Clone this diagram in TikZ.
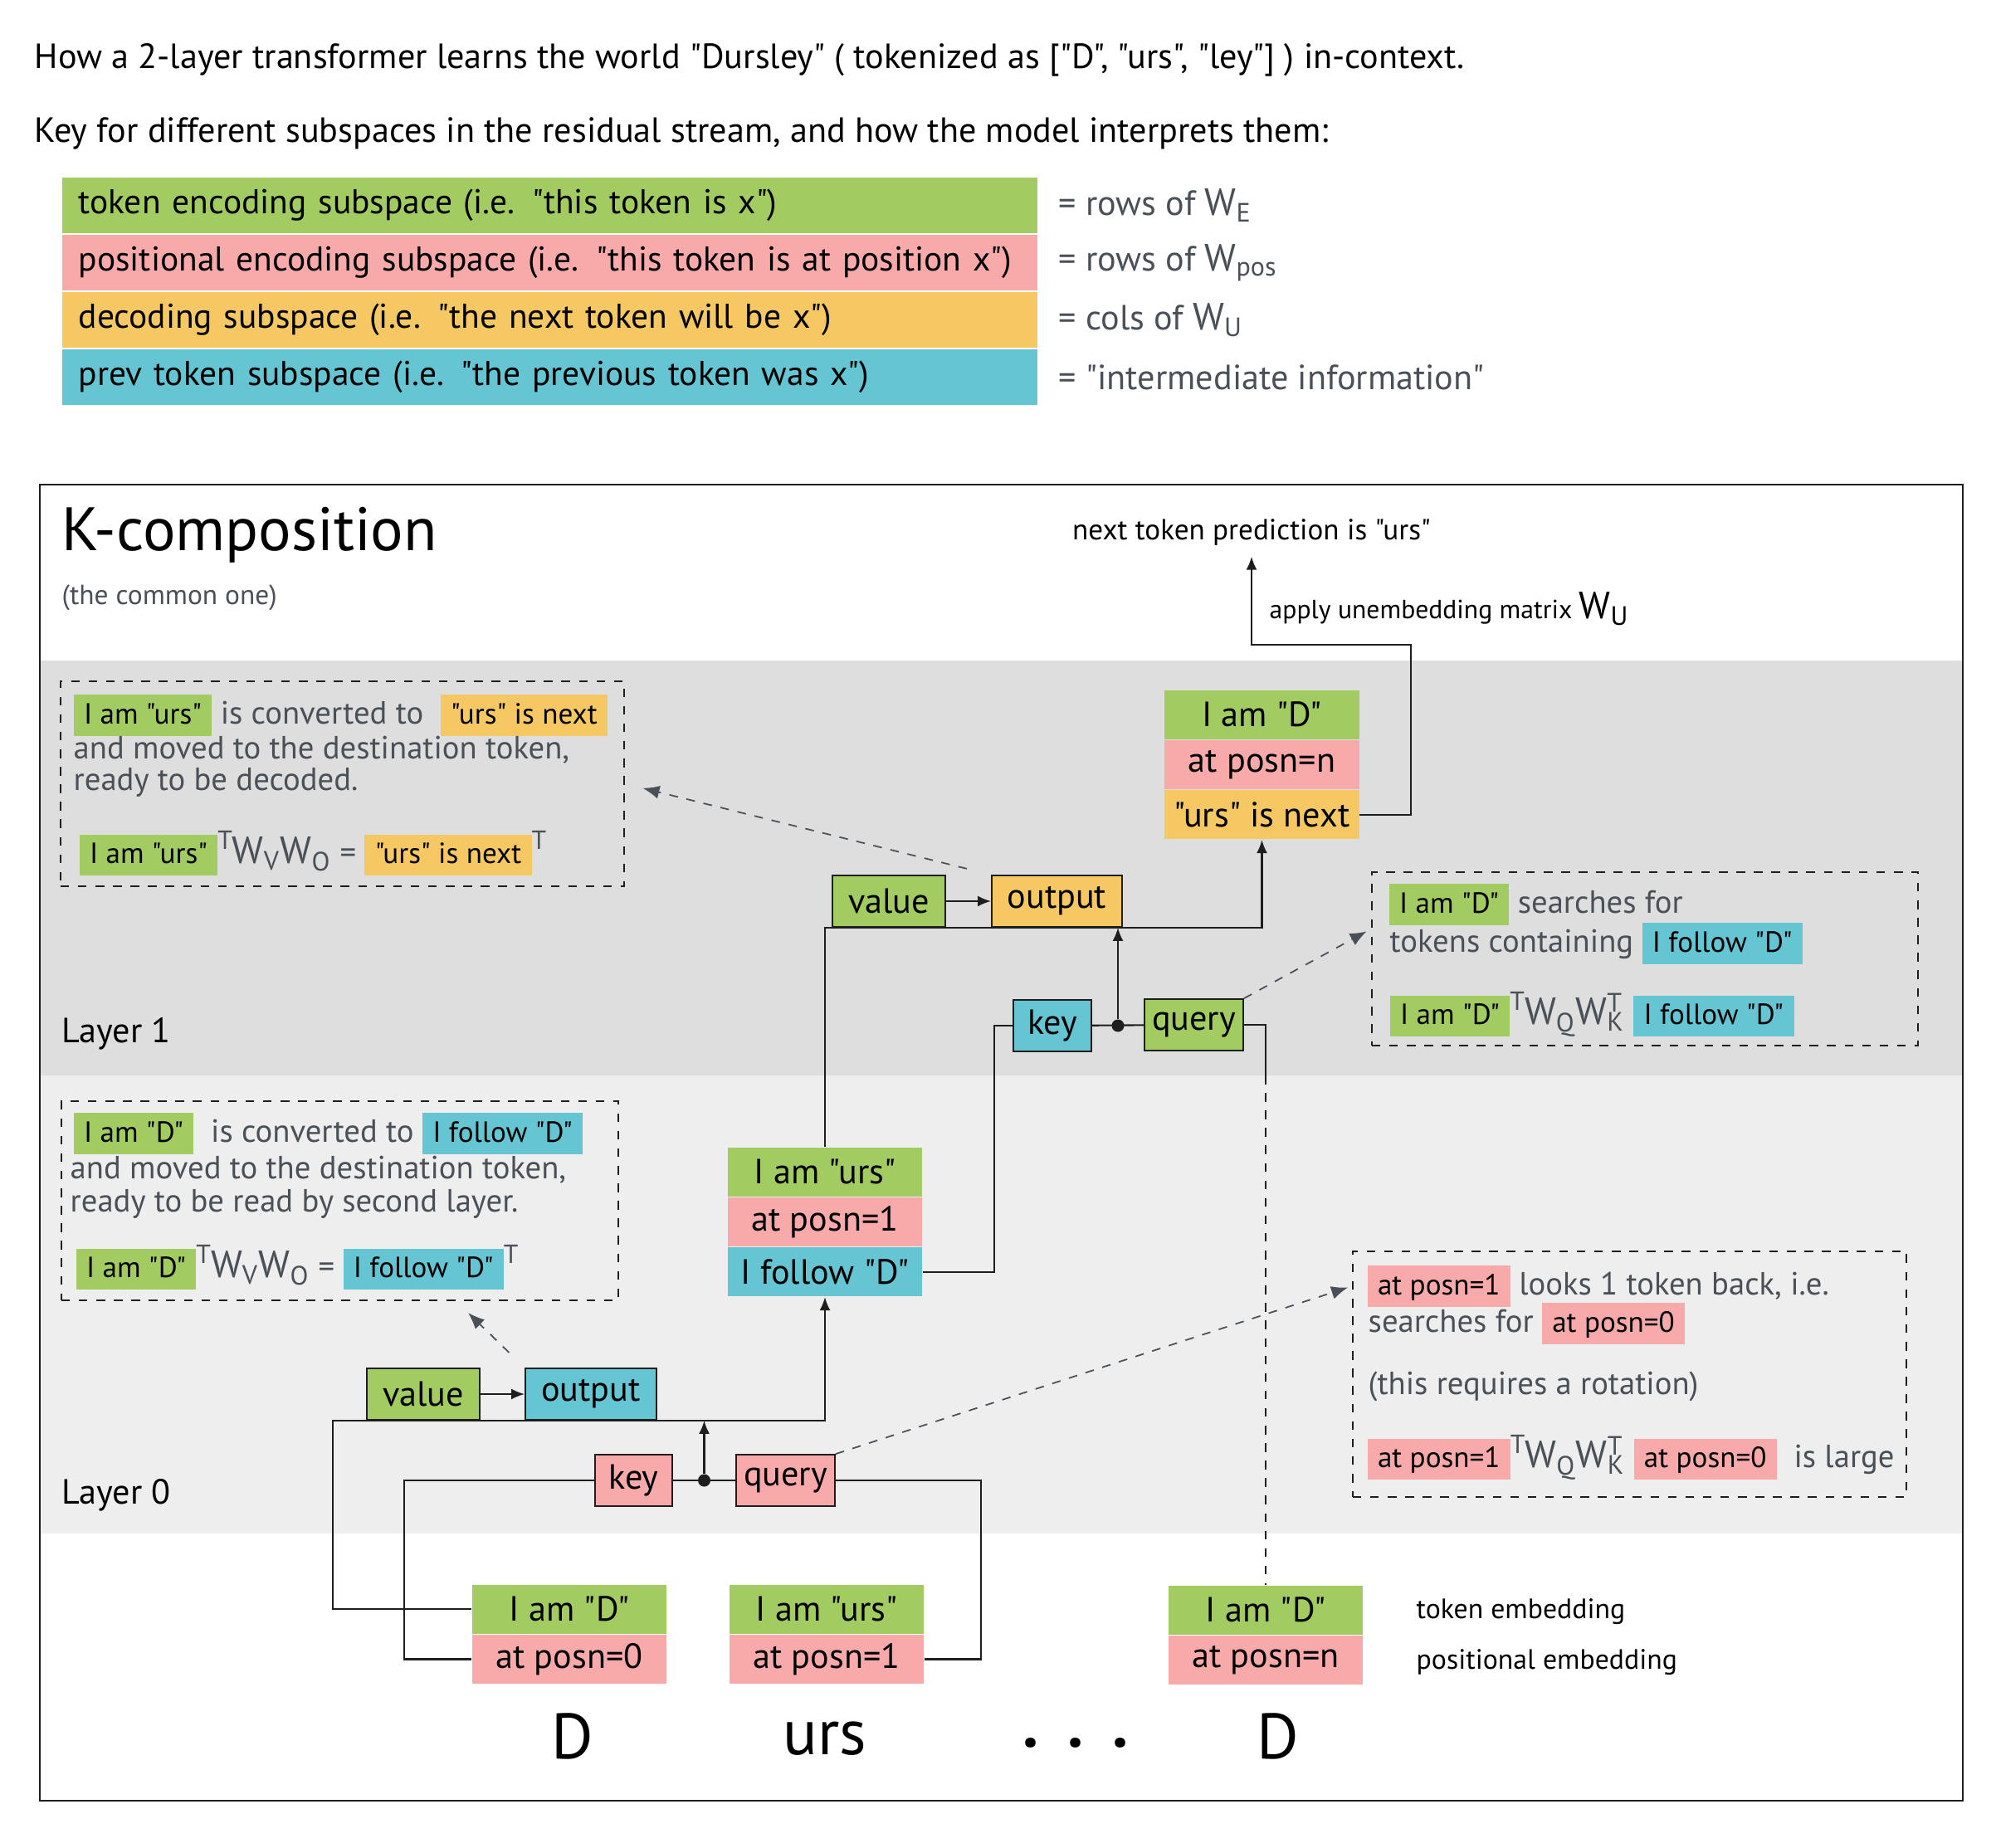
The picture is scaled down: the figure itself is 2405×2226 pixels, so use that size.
\documentclass[tikz,border=0pt]{standalone}
\usepackage{fontspec}
\setmainfont{PT Sans}[Ligatures=TeXOff]
\usetikzlibrary{positioning,arrows.meta}

\definecolor{tokgreen}{HTML}{A2CB61}
\definecolor{pospink}{HTML}{F8AAAA}
\definecolor{decyellow}{HTML}{F5C863}
\definecolor{prevblue}{HTML}{66C5D3}
\definecolor{layerone}{HTML}{DEDEDE}
\definecolor{layerzero}{HTML}{EEEEEE}
\definecolor{notegray}{HTML}{495057}
\definecolor{inkline}{HTML}{1E1E1E}

\newcommand{\chip}[2]{{\setlength{\fboxsep}{1pt}\colorbox{#1}{\fontsize{10}{12}\selectfont\color{black}\rule[-3pt]{0pt}{12pt}\hspace{2.5pt}#2\hspace{2.5pt}}}}
\newcommand{\Wsub}[1]{{\fontsize{13}{15}\selectfont W\textsubscript{#1}}}
\newcommand{\WkT}{{\fontsize{13}{15}\selectfont W\rlap{\textsubscript{K}}\textsuperscript{T}}\hspace{3.5pt}}
\newcommand{\tp}{\raisebox{5pt}{\fontsize{9}{9}\selectfont T}}

\begin{document}
\begin{tikzpicture}[x=0.01cm, y=-0.01cm,
    txt/.style={inner sep=0pt, anchor=west},
    legrow/.style={anchor=north west, minimum width=11.75cm, minimum height=0.675cm, inner xsep=0.2cm, text width=11.35cm, align=left, font=\fontsize{11.8}{14}\selectfont},
    legnote/.style={txt, text=notegray, font=\fontsize{12}{14}\selectfont},
    tokrow/.style={minimum width=2.34cm, minimum height=0.59cm, inner sep=0pt, font=\fontsize{12}{14}\selectfont},
    opbox/.style={draw=inkline, line width=0.5pt, minimum height=0.62cm, inner sep=0pt, font=\fontsize{12}{14}\selectfont},
    bigtok/.style={inner sep=0pt, font=\fontsize{22}{26}\selectfont},
    notebox/.style={draw=inkline, dashed, line width=0.5pt, inner sep=0pt},
    notetxt/.style={txt, text=notegray, font=\fontsize{11}{13}\selectfont},
    dot/.style={circle, fill=inkline, inner sep=0pt, minimum size=0.15cm},
    wire/.style={draw=inkline, line width=0.6pt},
    flow/.style={wire, -{Latex[length=1.6mm, width=1.3mm]}},
    note/.style={draw=notegray, dashed, line width=0.5pt, -{Latex[length=2mm, width=1.6mm]}}
  ]
  \useasboundingbox (0,0) rectangle (2405,2226);

  \node[txt, font=\fontsize{12}{14}\selectfont] (title) at (41,72) {How a 2-layer transformer learns the world "Dursley" ( tokenized as ["D", "urs", "ley"] ) in-context.};
  \node[txt, font=\fontsize{12}{14}\selectfont] (keyline) at (41,161) {Key for different subspaces in the residual stream, and how the model interprets them:};

  \node[legrow, fill=tokgreen] (kTok) at (74,213) {token encoding subspace (i.e. "this token is x")};
  \node[legrow, fill=pospink, below=0pt of kTok] (kPos) {positional encoding subspace (i.e. "this token is at position x")};
  \node[legrow, fill=decyellow, below=0pt of kPos] (kDec) {decoding subspace (i.e. "the next token will be x")};
  \node[legrow, fill=prevblue, below=0pt of kDec] (kPrev) {prev token subspace (i.e. "the previous token was x")};
  \node[legnote, right=0.24cm of kTok] (kTokW) {= rows of \Wsub{E}};
  \node[legnote, right=0.24cm of kPos] (kPosW) {= rows of \Wsub{pos}};
  \node[legnote, right=0.24cm of kDec] (kDecW) {= cols of \Wsub{U}};
  \node[legnote, right=0.24cm of kPrev] (kPrevW) {= "intermediate information"};

  \fill[layerone] (48,796) rectangle (2365,1296);
  \fill[layerzero] (48,1296) rectangle (2365,1848);
  \draw[inkline, line width=0.6pt] (48,584) rectangle (2365,2170);

  \node[txt, font=\fontsize{21}{25}\selectfont] (ktitle) at (74,645) {K-composition};
  \node[txt, text=notegray, font=\fontsize{9.5}{11}\selectfont] (ksub) at (74,720) {(the common one)};
  \node[txt, font=\fontsize{12}{14}\selectfont] (lay1) at (74,1246) {Layer 1};
  \node[txt, font=\fontsize{12}{14}\selectfont] (lay0) at (74,1802) {Layer 0};

  \node[tokrow, fill=tokgreen] (d0tok) at (686,1939) {I am "D"};
  \node[tokrow, fill=pospink, below=0pt of d0tok] (d0pos) {at posn=0};
  \node[tokrow, fill=tokgreen] (u0tok) at (996,1939) {I am "urs"};
  \node[tokrow, fill=pospink, below=0pt of u0tok] (u0pos) {at posn=1};
  \node[tokrow, fill=tokgreen] (n0tok) at (1525,1940) {I am "D"};
  \node[tokrow, fill=pospink, below=0pt of n0tok] (n0pos) {at posn=n};

  \node[bigtok] (wD) at (690,2092) {D};
  \node[bigtok] (wurs) at (994,2095) {urs};
  \node[bigtok] (wdots) at (1296,2100) {\textbf{.\hspace{0.35cm}.\hspace{0.35cm}.}};
  \node[bigtok] (wDn) at (1540,2092) {D};
  \node[txt, font=\fontsize{9.6}{12}\selectfont] (embTok) at (1706,1942) {token embedding};
  \node[txt, font=\fontsize{9.6}{12}\selectfont] (embPos) at (1706,2003) {positional embedding};

  \node[opbox, fill=tokgreen, minimum width=1.36cm] (v0) at (510,1680) {value};
  \node[opbox, fill=prevblue, minimum width=1.58cm] (o0) at (712,1680) {output};
  \node[opbox, fill=pospink, minimum width=0.93cm] (k0) at (763.5,1784) {key};
  \node[opbox, fill=pospink, minimum width=1.19cm] (q0) at (946.5,1784) {query};
  \node[dot] (j0) at (848.5,1784) {};

  \node[tokrow, fill=tokgreen] (u1tok) at (994,1412) {I am "urs"};
  \node[tokrow, fill=pospink, below=0pt of u1tok] (u1pos) {at posn=1};
  \node[tokrow, fill=prevblue, below=0pt of u1pos] (u1prev) {I follow "D"};

  \node[opbox, fill=tokgreen, minimum width=1.36cm] (v1) at (1071,1086) {value};
  \node[opbox, fill=decyellow, minimum width=1.57cm] (o1) at (1273.5,1086) {output};
  \node[opbox, fill=prevblue, minimum width=0.94cm] (k1) at (1268,1236) {key};
  \node[opbox, fill=tokgreen, minimum width=1.19cm] (q1) at (1438.5,1235) {query};
  \node[dot] (j1) at (1347,1236) {};

  \node[tokrow, fill=tokgreen] (n1tok) at (1520.5,861) {I am "D"};
  \node[tokrow, fill=pospink, below=0pt of n1tok] (n1pos) {at posn=n};
  \node[tokrow, fill=decyellow, below=0pt of n1pos] (n1next) {"urs" is next};

  \node[inner sep=0pt, font=\fontsize{10}{12}\selectfont] (pred) at (1508,642) {next token prediction is "urs"};
  \node[txt, font=\fontsize{9}{11}\selectfont] (unemb) at (1529,734) {apply unembedding matrix \Wsub{U}};
  \coordinate (ua) at (1700,777);
  \draw[flow, shorten >=0.12cm] (n1next.east) -| (ua) -| (pred.south);

  \draw[flow] (u1tok.north) |- (n1next |- o1.south) -- (n1next.south);
  \draw[flow] (v1) -- (o1);
  \draw[wire] (k1) -- (q1);
  \draw[flow] (j1) -- (j1 |- o1.south);
  \draw[wire] (u1prev.east) -- ++(86,0) |- (k1.west);
  \coordinate (qc) at (1525,1296);
  \draw[wire] (q1.east) -| (qc);
  \draw[wire, dashed] (qc) -- (n0tok.north);

  \draw[flow] (d0tok.west) -- ++(-167,0) |- (u1prev |- o0.south) -- (u1prev.south);
  \draw[flow] (v0) -- (o0);
  \draw[wire] (k0) -- (q0);
  \draw[flow] (j0) -- (j0 |- o0.south);
  \draw[wire] (d0pos.west) -- ++(-81,0) |- (k0.west);
  \draw[wire] (u0pos.east) -- ++(68,0) |- (q0.east);

  \node[notebox, minimum width=6.79cm, minimum height=2.47cm] (nb1) at (412.5,944.5) {};
  \node[notetxt] (nb1a) at (88,862) {\chip{tokgreen}{I am "urs"} is converted to \ \chip{decyellow}{"urs" is next}};
  \node[notetxt] (nb1b) at (88,904) {and moved to the destination token,};
  \node[notetxt] (nb1c) at (88,943) {ready to be decoded.};
  \node[notetxt] (nb1d) at (95,1028) {\chip{tokgreen}{I am "urs"}\tp\Wsub{V}\Wsub{O} = \chip{decyellow}{"urs" is next}\tp};

  \node[notebox, minimum width=6.58cm, minimum height=2.09cm] (nb2) at (1982,1155.5) {};
  \node[notetxt] (nb2a) at (1673,1090) {\chip{tokgreen}{I am "D"} searches for};
  \node[notetxt] (nb2b) at (1674,1137) {tokens containing \chip{prevblue}{I follow "D"}};
  \node[notetxt] (nb2c) at (1674,1222) {\chip{tokgreen}{I am "D"}\tp\Wsub{Q}\WkT\chip{prevblue}{I follow "D"}};

  \node[notebox, minimum width=6.71cm, minimum height=2.40cm] (nb3) at (409.5,1447) {};
  \node[notetxt] (nb3a) at (88,1366) {\chip{tokgreen}{I am "D"} \ is converted to \chip{prevblue}{I follow "D"}};
  \node[notetxt] (nb3b) at (84,1410) {and moved to the destination token,};
  \node[notetxt] (nb3c) at (84,1451) {ready to be read by second layer.};
  \node[notetxt] (nb3d) at (91,1527) {\chip{tokgreen}{I am "D"}\tp\Wsub{V}\Wsub{O} = \chip{prevblue}{I follow "D"}\tp};

  \node[notebox, minimum width=6.67cm, minimum height=2.96cm] (nb4) at (1963.5,1656) {};
  \node[notetxt] (nb4a) at (1647,1550) {\chip{pospink}{at posn=1} looks 1 token back, i.e.};
  \node[notetxt] (nb4b) at (1648,1595) {searches for \chip{pospink}{at posn=0}};
  \node[notetxt] (nb4c) at (1648,1671) {(this requires a rotation)};
  \node[notetxt] (nb4d) at (1647,1756) {\chip{pospink}{at posn=1}\tp\Wsub{Q}\WkT\chip{pospink}{at posn=0} \ is large};

  \coordinate (nb3tip) at (564,1582);
  \draw[note, shorten <=0.3cm, shorten >=0.22cm] (o1.north west) -- (nb1.east);
  \draw[note, shorten >=0.06cm] (q1.north east) -- ([yshift=0.36cm]nb2.west);
  \draw[note, shorten <=0.26cm] (o0.north west) -- (nb3tip);
  \draw[note, shorten >=0.05cm] (q0.north east) -- ([yshift=1.06cm]nb4.west);
\end{tikzpicture}
\end{document}
